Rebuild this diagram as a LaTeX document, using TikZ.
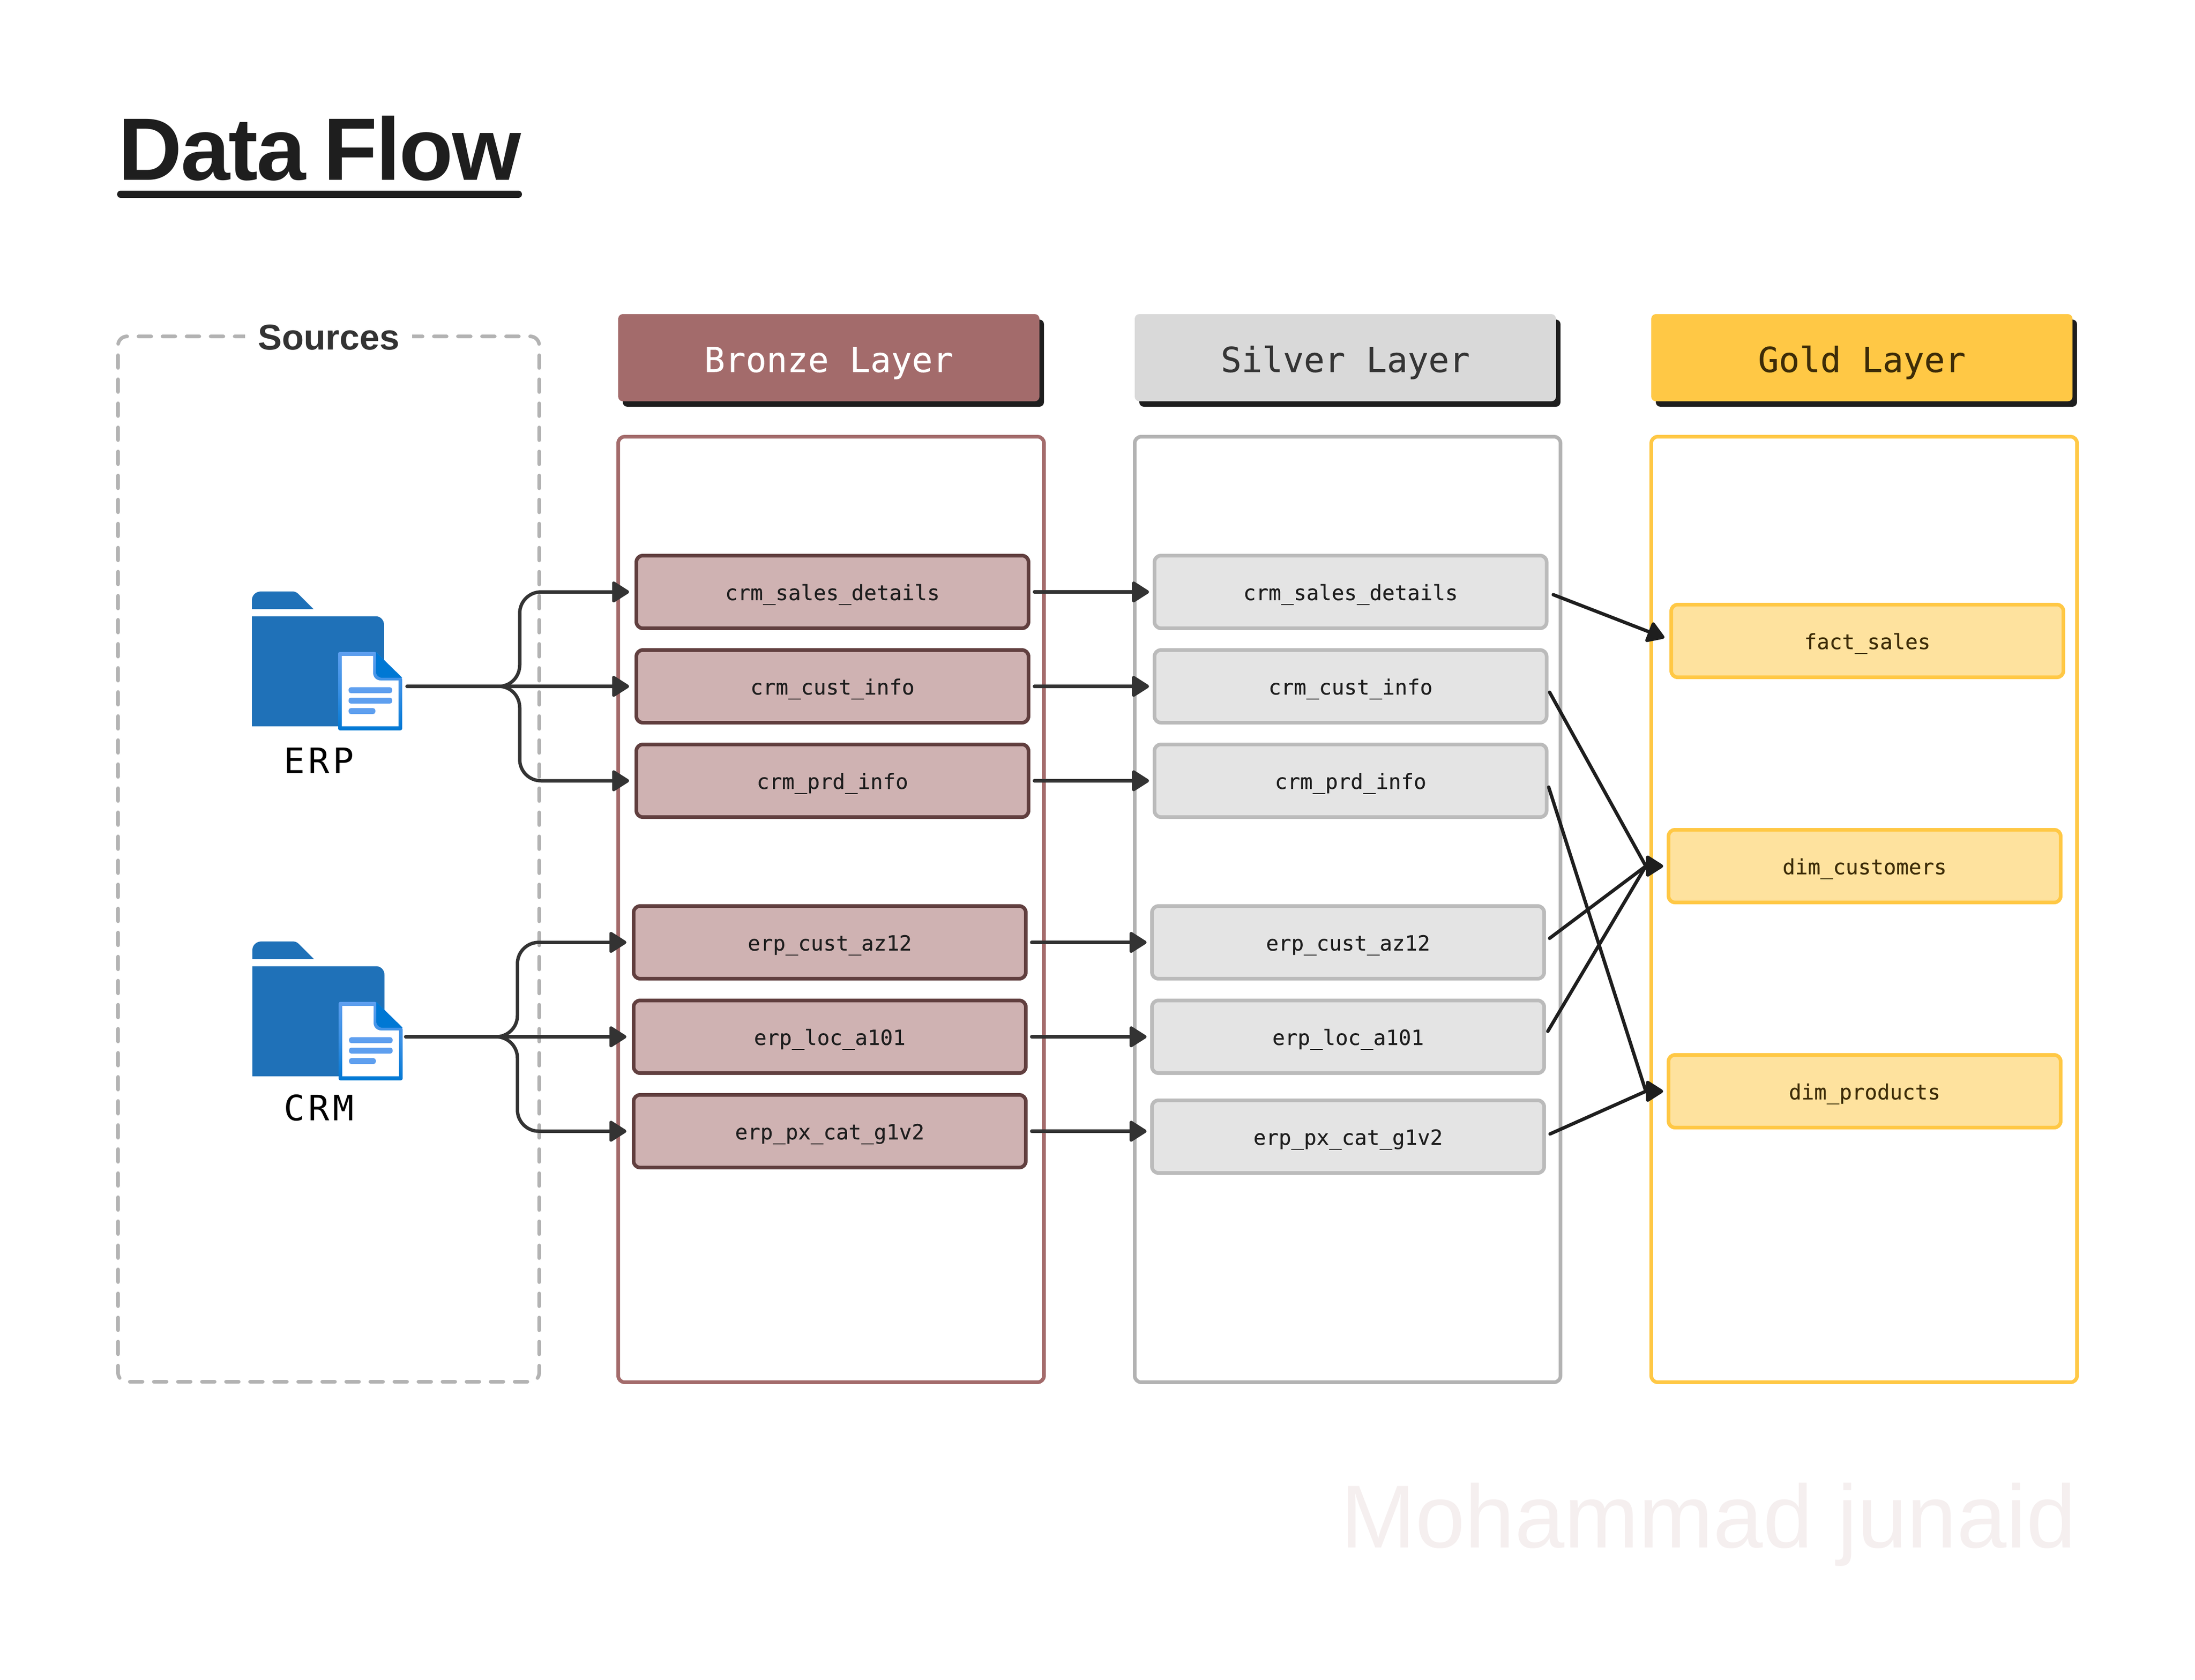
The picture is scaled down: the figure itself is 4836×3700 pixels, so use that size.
\documentclass[tikz,border=0pt]{standalone}
\usepackage{fontspec}
\setmainfont{Liberation Sans}
\newfontfamily\monof[FakeBold=0.25]{DejaVu Sans Mono}
\newfontfamily\labelf[LetterSpace=10]{DejaVu Sans Mono}
\newfontfamily\titlef[LetterSpace=-1.5,WordSpace=0.75]{Liberation Sans Bold}
\newfontfamily\markf{Liberation Sans}
\usetikzlibrary{arrows.meta,calc}
\definecolor{ink}{HTML}{1E1E1E}
\definecolor{conn}{HTML}{333333}
\definecolor{bronze}{HTML}{A36B6B}
\definecolor{bronzelt}{HTML}{CFB2B2}
\definecolor{bronzedk}{HTML}{613F3F}
\definecolor{silver}{HTML}{D9D9D9}
\definecolor{silverlt}{HTML}{E4E4E4}
\definecolor{silverdk}{HTML}{B3B3B3}
\definecolor{silverbd}{HTML}{BBBBBB}
\definecolor{gold}{HTML}{FFC845}
\definecolor{goldlt}{HTML}{FEE29E}
\definecolor{goldtx}{HTML}{3D2C08}
\definecolor{folder}{HTML}{1F71B8}
\definecolor{doclt}{HTML}{5E9FEF}
\definecolor{docdk}{HTML}{0078D4}
\definecolor{wm}{HTML}{F5EFEF}
\tikzset{
  headbox/.style={rectangle,rounded corners=1pt,minimum width=92.8pt,minimum height=19.2pt,inner sep=0pt,outer sep=0pt,
    font=\monof\fontsize{7.6pt}{9pt}\selectfont,text height=7.1pt,text depth=0.8pt},
  headshadow/.style={rectangle,rounded corners=1pt,minimum width=92.8pt,minimum height=19.2pt,inner sep=0pt,fill=ink},
  panelbox/.style={rectangle,draw,line width=0.8pt,rounded corners=1.4pt,minimum width=93.8pt,minimum height=208.3pt,inner sep=0pt,outer sep=0pt},
  tbl/.style={rectangle,draw,line width=0.8pt,rounded corners=1.4pt,minimum width=86.4pt,minimum height=16pt,inner sep=0pt,outer sep=0pt,
    font=\monof\fontsize{4.62pt}{5.6pt}\selectfont,text height=4.6pt,text depth=1pt},
  bt/.style={tbl,draw=bronzedk,fill=bronzelt,text=ink},
  st/.style={tbl,draw=silverbd,fill=silverlt,text=ink},
  gt/.style={tbl,draw=gold,fill=goldlt,text=goldtx},
  srcarrow/.style={draw=conn,line width=0.75pt,line cap=round,-{Triangle[length=4.1pt,width=5pt,round]}},
  goldarrow/.style={draw=ink,line width=0.75pt,line cap=round,line join=round,-{Triangle[length=4.1pt,width=5pt,round]}},
  srclabel/.style={inner sep=0pt,anchor=base,font=\labelf\fontsize{7.7pt}{9pt}\selectfont,text=black},
}
\newcommand{\foldericon}{%
  \fill[folder] (555,1342) -- (555,1322) .. controls (555,1311) and (564,1303) .. (575,1303) -- (645,1303)
     .. controls (651,1303) and (655,1306) .. (659,1310) -- (691,1342) -- cycle;
  \fill[folder] (555,1357.5) -- (828,1357.5) .. controls (838,1357.5) and (846,1366) .. (846,1376) -- (846,1600) -- (555,1600) -- cycle;
  \shade[top color=doclt,bottom color=docdk,middle color=doclt!60!docdk,rounded corners=0.4pt] (745,1436) -- (828,1436) -- (886,1493) -- (886,1609) -- (745,1609) -- cycle;
  \fill[docdk] (828,1436) -- (886,1493) -- (842,1493) .. controls (834,1493) and (828,1487) .. (828,1479) -- cycle;
  \fill[white] (753,1445) -- (822,1445) -- (822,1482) .. controls (822,1492) and (829,1499) .. (839,1499) -- (878,1499) -- (878,1600) -- (753,1600) -- cycle;
  \fill[doclt,rounded corners=0.5pt] (768,1514) rectangle (864,1527);
  \fill[doclt,rounded corners=0.5pt] (768,1537) rectangle (864,1550);
  \fill[doclt,rounded corners=0.5pt] (768,1560) rectangle (827,1573);
}
\begin{document}
\begin{tikzpicture}[x=0.1pt,y=-0.1pt]
\useasboundingbox (0,0) rectangle (4836,3700);
% title
\node[inner sep=0pt,anchor=base west,text=ink,font=\titlef\fontsize{19.5pt}{22pt}\selectfont] (title) at (258,396) {Data Flow};
\draw[ink,line width=1.6pt,line cap=round] (266,428) -- (1142,428);
% sources
\draw[silverdk,line width=0.8pt,dash pattern=on 2.8pt off 2.5pt,line cap=round,rounded corners=2pt] (724,741) -- (1188,741) -- (1188,3044) -- (260,3044) -- (260,741) -- cycle;
\fill[white] (540,725) rectangle (908,757);
\node[inner sep=0pt,anchor=base,text=conn,font=\bfseries\fontsize{7.9pt}{9pt}\selectfont] (sources) at (724.5,770) {Sources};
% layer headers
\node[headshadow] (bshadow) at (1836,800) {};
\node[headshadow] (sshadow) at (2974,800) {};
\node[headshadow] (gshadow) at (4112,800) {};
\node[headbox,fill=bronze,text=white] (bhead) at (1826,788) {Bronze Layer};
\node[headbox,fill=silver,text=ink!90] (shead) at (2964,788) {Silver Layer};
\node[headbox,fill=gold,text=goldtx] (ghead) at (4102,788) {Gold Layer};
% panels
\node[panelbox,draw=bronze] (bpanel) at (1831,2003.5) {};
\node[panelbox,draw=silverdk] (spanel) at (2969,2003.5) {};
\node[panelbox,draw=gold] (gpanel) at (4107,2003.5) {};
% bronze
\node[bt] (b1) at (1834,1304) {crm\_sales\_details};
\node[bt] (b2) at (1834,1512) {crm\_cust\_info};
\node[bt] (b3) at (1834,1720) {crm\_prd\_info};
\node[bt] (b4) at (1828,2076) {erp\_cust\_az12};
\node[bt] (b5) at (1828,2284) {erp\_loc\_a101};
\node[bt] (b6) at (1828,2492) {erp\_px\_cat\_g1v2};
% silver
\node[st] (s1) at (2975.5,1304) {crm\_sales\_details};
\node[st] (s2) at (2975.5,1512) {crm\_cust\_info};
\node[st] (s3) at (2975.5,1720) {crm\_prd\_info};
\node[st] (s4) at (2970,2076) {erp\_cust\_az12};
\node[st] (s5) at (2970,2284) {erp\_loc\_a101};
\node[st] (s6) at (2970,2504) {erp\_px\_cat\_g1v2};
% gold
\node[gt] (g1) at (4114,1412) {fact\_sales};
\node[gt] (g2) at (4108,1908) {dim\_customers};
\node[gt] (g3) at (4108,2404) {dim\_products};
% icons
\foldericon
\begin{scope}[shift={(1,771)}]\foldericon\end{scope}
\node[srclabel] (erp) at (703,1703) {ERP};
\node[srclabel] (crm) at (703,2468) {CRM};
% source connectors
\coordinate (erpout) at (897,1512);
\coordinate (crmout) at (894,2284);
\draw[srcarrow,shorten >=1.6pt] (erpout) -- (b2.west);
\draw[srcarrow,shorten >=1.6pt] (erpout) -- (1099,1512) .. controls (1125,1512) and (1145,1491) .. (1145,1465) -- (1145,1351) .. controls (1145,1325) and (1166,1304) .. (1192,1304) -- (b1.west);
\draw[srcarrow,shorten >=1.6pt] (erpout) -- (1099,1512) .. controls (1125,1512) and (1145,1533) .. (1145,1559) -- (1145,1673) .. controls (1145,1699) and (1166,1720) .. (1192,1720) -- (b3.west);
\draw[srcarrow,shorten >=1.6pt] (crmout) -- (b5.west);
\draw[srcarrow,shorten >=1.6pt] (crmout) -- (1093,2284) .. controls (1119,2284) and (1140,2263) .. (1140,2237) -- (1140,2123) .. controls (1140,2097) and (1161,2076) .. (1187,2076) -- (b4.west);
\draw[srcarrow,shorten >=1.6pt] (crmout) -- (1093,2284) .. controls (1119,2284) and (1140,2305) .. (1140,2331) -- (1140,2445) .. controls (1140,2471) and (1161,2492) .. (1187,2492) -- (b6.west);
% bronze to silver
\foreach \a/\b in {b1/s1,b2/s2,b3/s3,b4/s4,b5/s5}{
  \draw[srcarrow,shorten <=1.3pt,shorten >=1.2pt] (\a.east) -- (\b.west);
}
\coordinate (s6in) at (s6.west |- b6.east);
\draw[srcarrow,shorten <=1.3pt,shorten >=1.2pt] (b6.east) -- (s6in);
% silver to gold
\coordinate (s1o) at (3422,1310);
\coordinate (s2o) at (3414,1525);
\coordinate (s3o) at (3412,1734);
\coordinate (s4o) at (3414,2067);
\coordinate (s5o) at (3410,2272);
\coordinate (s6o) at (3415,2498);
\coordinate (g1in) at (3667,1405);
\coordinate (g2hub) at (3626,1908);
\coordinate (g3hub) at (3626,2404);
\draw[goldarrow] (s1o) -- (g1in);
\draw[goldarrow,shorten >=1.2pt] (s2o) -- (g2hub) -- (g2.west);
\draw[goldarrow,shorten >=1.2pt] (s4o) -- (g2hub) -- (g2.west);
\draw[goldarrow,shorten >=1.2pt] (s5o) -- (g2hub) -- (g2.west);
\draw[goldarrow,shorten >=1.2pt] (s3o) -- (g3hub) -- (g3.west);
\draw[goldarrow,shorten >=1.2pt] (s6o) -- (g3hub) -- (g3.west);
% watermark
\node[inner sep=0pt,anchor=base west,text=wm,font=\markf\fontsize{19.7pt}{22pt}\selectfont] (mark) at (2952,3409) {Mohammad junaid};
\end{tikzpicture}
\end{document}
